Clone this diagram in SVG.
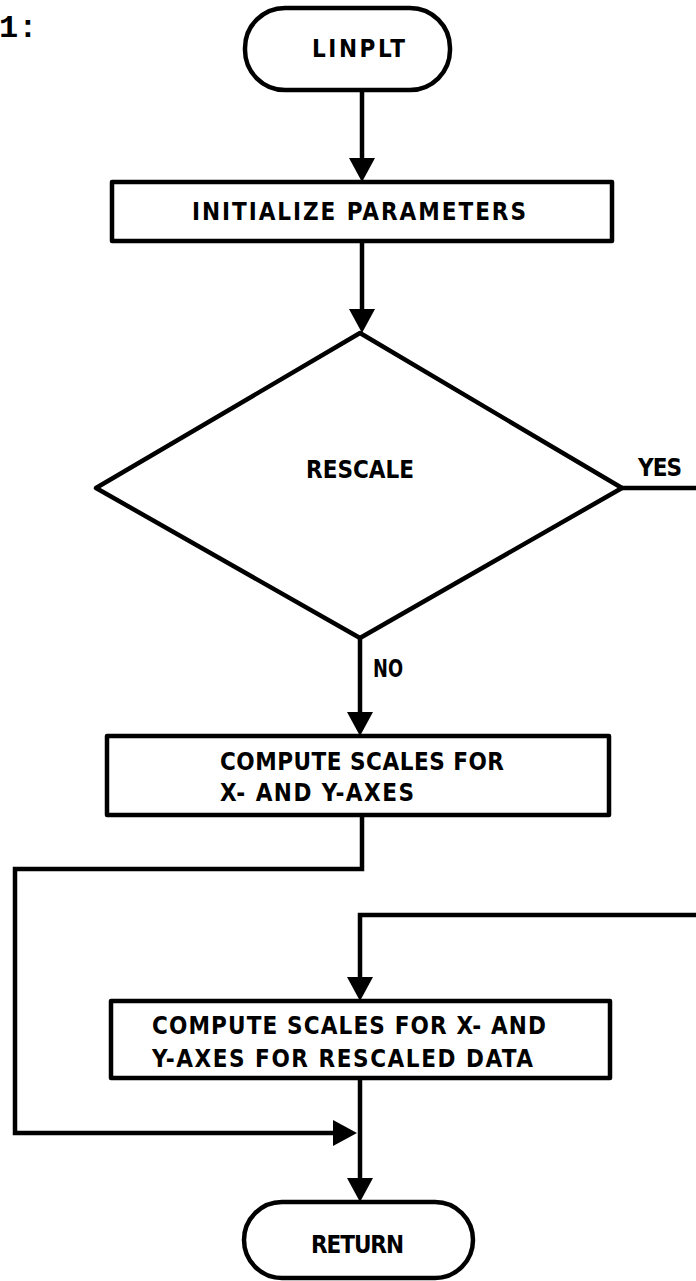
<svg xmlns="http://www.w3.org/2000/svg" width="696" height="1281" viewBox="0 0 696 1281">
<style>
.shape{fill:#fff;stroke:#000;stroke-width:4.5;stroke-linejoin:round}
.conn{fill:none;stroke:#000;stroke-width:4.5;stroke-linejoin:miter}
.lbl{font-family:"DejaVu Sans Condensed","DejaVu Sans",sans-serif;font-weight:bold;font-size:24px;fill:#000}
</style>
<defs>
<marker id="arr" viewBox="0 0 24 26" refX="14" refY="13" markerWidth="24" markerHeight="26" markerUnits="userSpaceOnUse" orient="auto">
<path d="M0,0 L24,13 L0,26 z" fill="#000"/>
</marker>
</defs>
<rect width="696" height="1281" fill="#fff"/>
<text x="-1" y="37" font-family="Liberation Mono,monospace" font-weight="bold" font-size="32">1:</text>
<g id="connectors">
<path class="conn" d="M362,90 V172" marker-end="url(#arr)"/>
<path class="conn" d="M362,241 V323" marker-end="url(#arr)"/>
<path class="conn" d="M360,638 V726" marker-end="url(#arr)"/>
<path class="conn" d="M622,488 H696"/>
<path class="conn" d="M696,915 H360 V991" marker-end="url(#arr)"/>
<path class="conn" d="M362,815 V869 H15 V1133 H347" marker-end="url(#arr)"/>
<path class="conn" d="M360,1078 V1192" marker-end="url(#arr)"/>
</g>
<g id="linplt">
<rect class="shape" x="245" y="8" width="205" height="82" rx="40"/>
<text class="lbl" x="312" y="57" textLength="93" lengthAdjust="spacing">LINPLT</text>
</g>
<g id="init">
<rect class="shape" x="112" y="182" width="500" height="59"/>
<text class="lbl" x="192" y="220" textLength="334" lengthAdjust="spacing">INITIALIZE PARAMETERS</text>
</g>
<g id="rescale">
<polygon class="shape" points="360,333 622,488 360,638 96,488"/>
<text class="lbl" x="306" y="478" textLength="108" lengthAdjust="spacing">RESCALE</text>
<text class="lbl" x="638" y="476" textLength="44" lengthAdjust="spacing">YES</text>
<text class="lbl" x="373" y="677" textLength="30" lengthAdjust="spacingAndGlyphs">NO</text>
</g>
<g id="compute1">
<rect class="shape" x="107" y="736" width="502" height="79"/>
<text class="lbl" x="220" y="770" textLength="284" lengthAdjust="spacing">COMPUTE SCALES FOR</text>
<text class="lbl" x="220" y="801" textLength="194" lengthAdjust="spacing">X- AND Y-AXES</text>
</g>
<g id="compute2">
<rect class="shape" x="111" y="1001" width="499" height="77"/>
<text class="lbl" x="152" y="1034" textLength="394" lengthAdjust="spacing">COMPUTE SCALES FOR X- AND</text>
<text class="lbl" x="152" y="1067" textLength="381" lengthAdjust="spacing">Y-AXES FOR RESCALED DATA</text>
</g>
<g id="return">
<rect class="shape" x="244" y="1202" width="229" height="76" rx="38"/>
<text class="lbl" x="311" y="1253" textLength="93" lengthAdjust="spacing">RETURN</text>
</g>
</svg>
